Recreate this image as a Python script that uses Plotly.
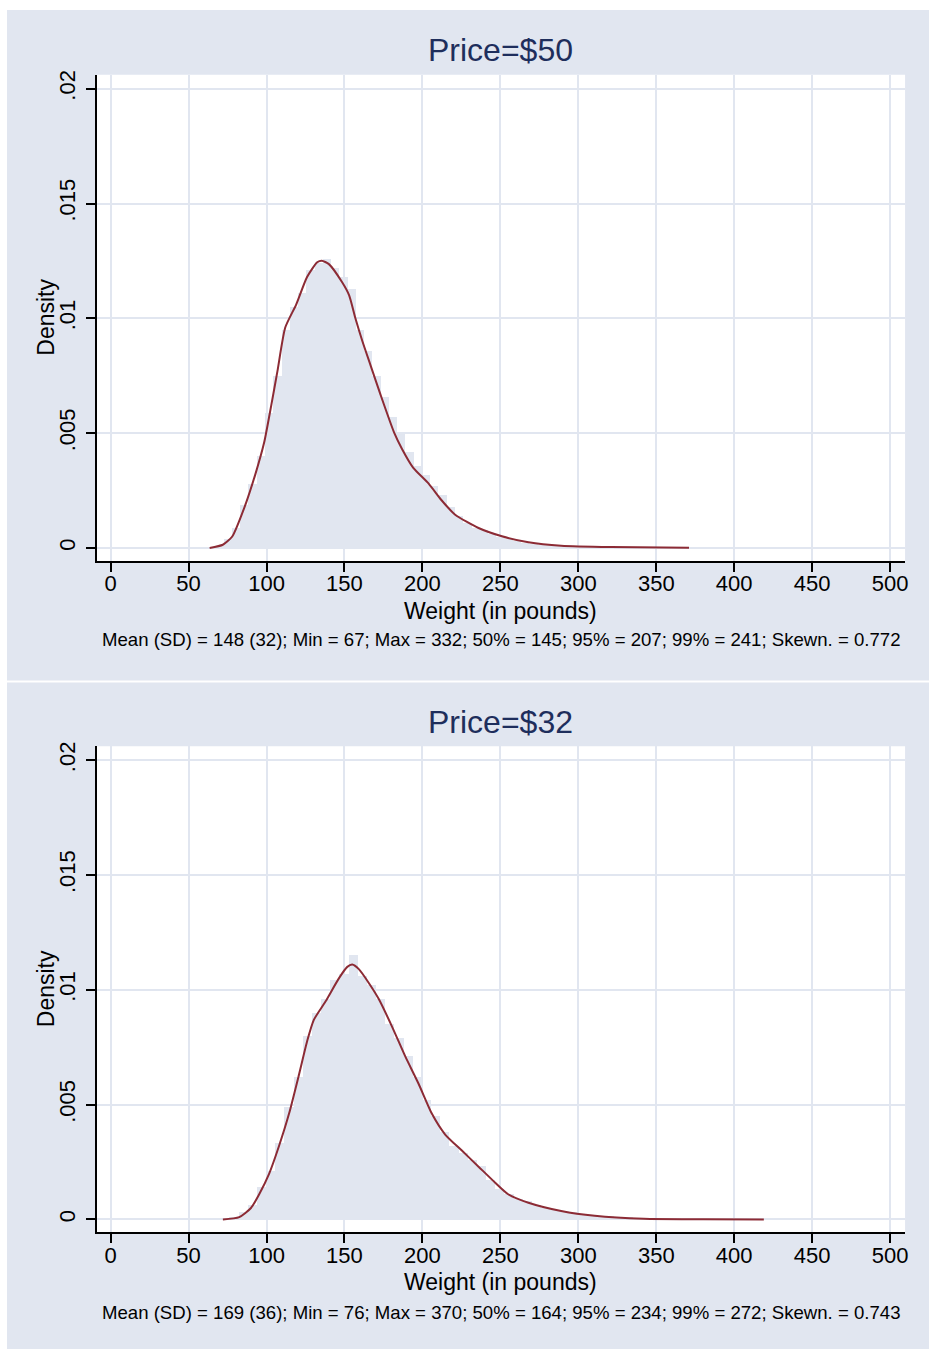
import plotly.graph_objects as go

# ---- data -----------------------------------------------------------------
# Histograms use 50 equal-width bins spanning [min, max] of each sample.

# Price = $50
p50_min, p50_max = 67, 332
p50_hist = [0.0001, 0.0004, 0.0009, 0.0019, 0.0028, 0.0040, 0.0059, 0.0075,
            0.0095, 0.0105, 0.0111, 0.0121, 0.0124, 0.0126, 0.0122, 0.0118,
            0.0113, 0.0095, 0.0086, 0.0075, 0.0066, 0.0057, 0.0050, 0.0042,
            0.0036, 0.0032, 0.0027, 0.0023, 0.0018, 0.0014, 0.0011, 0.0009,
            0.0008, 0.0006, 0.0005, 0.0004, 0.0003, 0.00025, 0.0002, 0.00015,
            0.00012, 0.0001, 0.00008, 0.00006, 0.00005, 0.00004, 0.00003,
            0.00003, 0.00002, 0.00002]
p50_kde_x = [63.5, 72, 78, 86, 93, 98.5, 103, 107, 112, 119, 126, 132.5, 135.5,
             140, 148.5, 153, 157, 161.5, 167, 173, 182, 187, 194, 204, 212,
             221, 236, 251, 268, 289, 321, 371]
p50_kde_y = [0.0, 0.00014, 0.0005, 0.0018, 0.00325, 0.0046, 0.0062, 0.0077,
             0.0096, 0.0106, 0.0118, 0.01244, 0.01251, 0.01236, 0.01157, 0.0110,
             0.0100, 0.0090, 0.0079, 0.0067, 0.0050, 0.0043, 0.0035, 0.0028,
             0.0021, 0.00145, 0.00087, 0.00051, 0.00025, 0.0001, 0.00004,
             0.00001]

# Price = $32
p32_min, p32_max = 76, 370
p32_hist = [0.0001, 0.0003, 0.0006, 0.0014, 0.0021, 0.0033, 0.0049, 0.0062,
            0.0080, 0.0090, 0.0096, 0.0104, 0.0107, 0.0115, 0.0106, 0.0102,
            0.0096, 0.0085, 0.0079, 0.0071, 0.0062, 0.0052, 0.0045, 0.0038,
            0.0032, 0.0029, 0.0026, 0.0023, 0.0017, 0.0013, 0.0011, 0.0009,
            0.0008, 0.0006, 0.0005, 0.0004, 0.00035, 0.0003, 0.00025, 0.0002,
            0.00015, 0.00012, 0.0001, 0.00008, 0.00006, 0.00005, 0.00004,
            0.00003, 0.00002, 0.00002]
p32_kde_x = [72, 82.5, 90, 95.3, 101.7, 108, 114.4, 120.8, 126.2, 130.4, 137.9,
             146.4, 151.8, 155, 159.2, 165.6, 172, 180.5, 189, 197.6, 206.1,
             214.6, 225.3, 236, 246.7, 255, 268, 289, 310.5, 342, 380, 419]
p32_kde_y = [0.0, 0.0001, 0.0005, 0.0011, 0.0020, 0.0032, 0.0046, 0.0063,
             0.0078, 0.0087, 0.0095, 0.0105, 0.0110, 0.0111, 0.0109, 0.0103,
             0.0096, 0.0084, 0.0071, 0.0059, 0.0046, 0.0037, 0.0030, 0.0023,
             0.0016, 0.0011, 0.00073, 0.00037, 0.00016, 0.00003, 0.00001, 0.0]

N_BINS = 50

panels = [
    {"title": "Price=$50", "min": p50_min, "max": p50_max, "hist": p50_hist,
     "kx": p50_kde_x, "ky": p50_kde_y,
     "note": "Mean (SD) = 148 (32); Min = 67; Max = 332; 50% = 145; "
             "95% = 207; 99% = 241; Skewn. = 0.772"},
    {"title": "Price=$32", "min": p32_min, "max": p32_max, "hist": p32_hist,
     "kx": p32_kde_x, "ky": p32_kde_y,
     "note": "Mean (SD) = 169 (36); Min = 76; Max = 370; 50% = 164; "
             "95% = 234; 99% = 272; Skewn. = 0.743"},
]

x_ticks = list(range(0, 501, 50))
y_ticks = [0, 0.005, 0.01, 0.015, 0.02]
y_ticktext = ["0", ".005", ".01", ".015", ".02"]
x_range = [-8.95, 509.6]
y_range = [-0.000564, 0.020607]

# ---- styling ----------------------------------------------------------------
W, H = 932, 1349
BG = "#e1e6f0"
GRID = "#e1e6f0"
FILL = "#e1e6f0"
CURVE = "#8c2b35"
NAVY = "#1e2e5c"
FONT = "Liberation Sans, Arial, sans-serif"


def px_x(p):
    return p / W


def px_y(p):
    return 1 - p / H


# plot-area frames in pixels: (left, right, top, bottom), panel band (top, bottom)
frames = [
    {"plot": (97, 908, 70, 558), "band": (5, 678), "title": 45, "xt": 608, "note": 637},
    {"plot": (97, 908, 744, 1232), "band": (680, 1349), "title": 720, "xt": 1282, "note": 1312},
]

fig = go.Figure()
shapes = []
annotations = []

for i, (pan, fr) in enumerate(zip(panels, frames)):
    suffix = "" if i == 0 else str(i + 1)
    xa, ya = "x" + suffix, "y" + suffix
    width = (pan["max"] - pan["min"]) / N_BINS
    centers = [pan["min"] + (k + 0.5) * width for k in range(len(pan["hist"]))]
    fig.add_trace(go.Bar(x=centers, y=pan["hist"], width=width,
                         marker=dict(color=FILL, line=dict(width=0)),
                         xaxis=xa, yaxis=ya, showlegend=False, hoverinfo="skip"))
    fig.add_trace(go.Scatter(x=pan["kx"], y=pan["ky"], mode="lines",
                             line=dict(color=CURVE, width=2, shape="spline", smoothing=0.6),
                             xaxis=xa, yaxis=ya, showlegend=False))

    l, r, t, b = fr["plot"]
    bt, bb = fr["band"]
    shapes.append(dict(type="rect", xref="paper", yref="paper", layer="below",
                       x0=px_x(7), x1=1, y0=px_y(bb), y1=px_y(bt),
                       fillcolor=BG, line=dict(width=0)))
    shapes.append(dict(type="rect", xref="paper", yref="paper", layer="below",
                       x0=px_x(l), x1=px_x(r), y0=px_y(b), y1=px_y(t),
                       fillcolor="white", line=dict(width=0)))

    axis_common = dict(showline=True, linecolor="black", linewidth=1.5,
                       ticks="outside", ticklen=9, tickcolor="black", tickwidth=1.5,
                       showgrid=True, gridcolor=GRID, gridwidth=2, zeroline=False,
                       tickfont=dict(family=FONT, size=22, color="black"))
    fig.layout["xaxis" + suffix] = dict(
        axis_common, domain=[px_x(l), px_x(r)], range=x_range,
        tickvals=x_ticks, anchor=ya, ticklabelstandoff=-7)
    fig.layout["yaxis" + suffix] = dict(
        axis_common, domain=[px_y(b), px_y(t)], range=y_range,
        tickvals=y_ticks, ticktext=y_ticktext, tickangle=-90, anchor=xa,
        ticklabelstandoff=2)

    cx = px_x((l + r) / 2)
    annotations.append(dict(text=pan["title"], x=cx, y=px_y(fr["title"]),
                            xref="paper", yref="paper", showarrow=False,
                            xanchor="center", yanchor="middle",
                            font=dict(family=FONT, size=32, color=NAVY)))
    annotations.append(dict(text="Weight (in pounds)", x=cx, y=px_y(fr["xt"]),
                            xref="paper", yref="paper", showarrow=False,
                            xanchor="center", yanchor="middle",
                            font=dict(family=FONT, size=23, color="black")))
    annotations.append(dict(text=pan["note"], x=cx, y=px_y(fr["note"]),
                            xref="paper", yref="paper", showarrow=False,
                            xanchor="center", yanchor="middle",
                            font=dict(family=FONT, size=18.6, color="black")))
    annotations.append(dict(text="Density", x=px_x(46), y=px_y((t + b) / 2 - 1),
                            xref="paper", yref="paper", showarrow=False,
                            textangle=-90, xanchor="center", yanchor="middle",
                            font=dict(family=FONT, size=23, color="black")))

fig.update_layout(
    width=W, height=H, margin=dict(l=0, r=0, t=0, b=0),
    paper_bgcolor="white", plot_bgcolor="rgba(0,0,0,0)",
    bargap=0, shapes=shapes, annotations=annotations,
    font=dict(family=FONT),
)

fig.write_html("out.html")
